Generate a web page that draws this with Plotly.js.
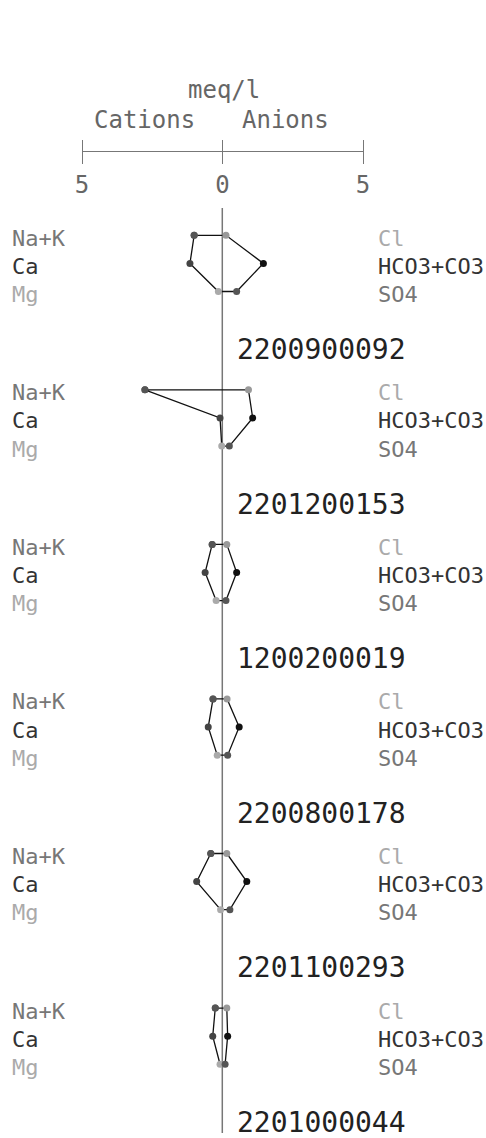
<!DOCTYPE html>
<html>
<head>
<meta charset="utf-8">
<script src="https://cdn.plot.ly/plotly-3.0.1.min.js"></script>
<style>
  html, body { margin: 0; padding: 0; background: #fff; }
  #chart { width: 486px; height: 1138px; }
</style>
</head>
<body>
<div id="chart"></div>
<script>
// Stiff diagrams, meq/l
const samples = ['2200900092', '2201200153', '1200200019', '2200800178', '2201100293', '2201000044'];
const naK = [1.0, 2.75, 0.36, 0.33, 0.41, 0.25];
const ca = [1.15, 0.08, 0.61, 0.5, 0.91, 0.34];
const mg = [0.14, 0.02, 0.22, 0.18, 0.06, 0.08];
const cl = [0.13, 0.93, 0.16, 0.17, 0.16, 0.16];
const hco3 = [1.46, 1.08, 0.51, 0.6, 0.87, 0.19];
const so4 = [0.51, 0.25, 0.13, 0.19, 0.27, 0.1];

const cationLabels = ['Na+K', 'Ca', 'Mg'];
const anionLabels = ['Cl', 'HCO3+CO3', 'SO4'];
const scaleTicks = [-5, 0, 5];
const scaleTickText = ['5', '0', '5'];

const W = 486, H = 1138;
const PX = 28.1;           // px per y unit (one ion row)
const ROW = 5.5;           // units between samples
const Y0 = 235.3;          // pixel of first Na+K row
const ZERO = 222.3;        // pixel of 0 meq
const XPX = 28.14;         // px per meq

const mono = 'DejaVu Sans Mono, monospace';
const cationColors = ['#777', '#333', '#aaa'];
const anionColors = ['#aaa', '#333', '#777'];
// marker colours: NaK, Ca, Mg, SO4, HCO3, Cl, NaK
const markerColors = ['#555', '#444', '#aaa', '#555', '#111', '#999', '#555'];

const traces = [];
const annotations = [];

samples.forEach((id, i) => {
  const base = i * ROW;
  traces.push({
    type: 'scatter',
    mode: 'lines+markers',
    x: [-naK[i], -ca[i], -mg[i], so4[i], hco3[i], cl[i], -naK[i]],
    y: [0, 1, 2, 2, 1, 0, 0].map((v) => v + base),
    line: { color: '#111', width: 1.3 },
    marker: { color: markerColors, size: 7 },
    hoverinfo: 'skip',
    showlegend: false,
  });
  cationLabels.forEach((t, j) => {
    annotations.push({
      text: t, xref: 'paper', yref: 'y', x: 10 / W, y: base + j, xanchor: 'left', yanchor: 'middle',
      yshift: -3, showarrow: false, font: { family: mono, size: 22, color: cationColors[j] },
    });
  });
  anionLabels.forEach((t, j) => {
    annotations.push({
      text: t, xref: 'paper', yref: 'y', x: 376 / W, y: base + j, xanchor: 'left', yanchor: 'middle',
      yshift: -3, showarrow: false, font: { family: mono, size: 22, color: anionColors[j] },
    });
  });
  annotations.push({
    text: id, xref: 'x', yref: 'y', x: 0.45, y: base + 4.07, xanchor: 'left', yanchor: 'middle',
    showarrow: false, font: { family: mono, size: 28, color: '#222' },
  });
});

annotations.push(
  { text: 'meq/l', xref: 'x', yref: 'y', x: 0.05, y: -5.17, xanchor: 'center', yanchor: 'middle',
    showarrow: false, font: { family: mono, size: 24, color: '#666' } },
  { text: 'Cations', xref: 'x', yref: 'y', x: -0.9, y: -4.1, xanchor: 'right', yanchor: 'middle',
    showarrow: false, font: { family: mono, size: 24, color: '#666' } },
  { text: 'Anions', xref: 'x', yref: 'y', x: 0.63, y: -4.1, xanchor: 'left', yanchor: 'middle',
    showarrow: false, font: { family: mono, size: 24, color: '#666' } },
);

// dummy traces so both scale axes are drawn
traces.push({ type: 'scatter', mode: 'markers', x: [0], y: [null], xaxis: 'x2', yaxis: 'y', hoverinfo: 'skip', showlegend: false });
traces.push({ type: 'scatter', mode: 'markers', x: [0], y: [null], xaxis: 'x3', yaxis: 'y', hoverinfo: 'skip', showlegend: false });

const scaleDomain = [82 / W, 363 / W];
const scaleAxis = {
  domain: scaleDomain, range: [-5, 5], anchor: 'free', side: 'bottom',
  tickvals: scaleTicks, ticktext: scaleTickText, tickwidth: 1, tickcolor: '#777',
  showgrid: false, zeroline: false, fixedrange: true,
};

Plotly.newPlot('chart', traces, {
  width: W, height: H,
  margin: { l: 0, r: 0, t: 0, b: 0 },
  paper_bgcolor: '#fff', plot_bgcolor: 'rgba(0,0,0,0)',
  xaxis: { range: [-ZERO / XPX, (W - ZERO) / XPX], visible: false, fixedrange: true },
  yaxis: { range: [(H - Y0) / PX, -Y0 / PX], visible: false, fixedrange: true },
  // scale ticks (crossing the bar) and labels
  xaxis2: {
    ...scaleAxis, position: 1 - 139 / H, showline: false, ticks: 'outside', ticklen: 24,
    tickfont: { family: mono, size: 24, color: '#666' },
  },
  // scale bar line
  xaxis3: { ...scaleAxis, position: 1 - 151 / H, ticks: '', showticklabels: false,
    showline: true, linecolor: '#777', linewidth: 1 },
  shapes: [
    { type: 'line', xref: 'x', yref: 'y', x0: 0, x1: 0, y0: (208 - Y0) / PX, y1: (1133 - Y0) / PX,
      line: { color: '#777', width: 1.5 }, layer: 'below' },
  ],
  annotations,
}, { staticPlot: true });
</script>
</body>
</html>
